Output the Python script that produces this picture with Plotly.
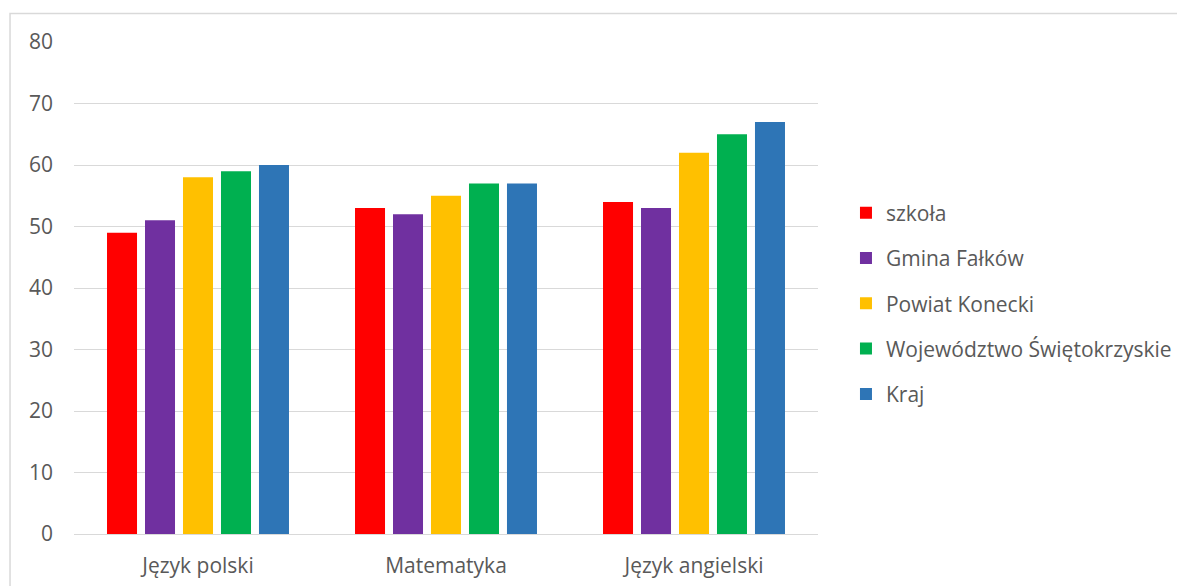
import plotly.graph_objects as go

categories = ["Język polski", "Matematyka", "Język angielski"]
series_names = ["szkoła", "Gmina Fałków", "Powiat Konecki", "Województwo Świętokrzyskie", "Kraj"]
szkola = [49, 53, 54]
gmina = [51, 52, 53]
powiat = [58, 55, 62]
wojewodztwo = [59, 57, 65]
kraj = [60, 57, 67]
colors = ["#FF0000", "#7030A0", "#FFC000", "#00B050", "#2E75B6"]
y_ticks = [0, 10, 20, 30, 40, 50, 60, 70, 80]

values = [szkola, gmina, powiat, wojewodztwo, kraj]
font_family = "Open Sans, Noto Sans, sans-serif"
fs = 21

fig = go.Figure()
for name, vals, col in zip(series_names, values, colors):
    fig.add_trace(go.Bar(x=categories, y=vals, name=name, marker=dict(color=col, line=dict(width=0)),
                         showlegend=False))
for name, col in zip(series_names, colors):
    fig.add_trace(go.Scatter(x=[None], y=[None], mode="markers", name=name, legendgroup=name,
                             marker=dict(symbol="square", size=12, color=col)))

fig.update_layout(
    width=1177, height=578,
    margin=dict(l=66, r=367, t=34, b=52, autoexpand=False),
    paper_bgcolor="white", plot_bgcolor="white",
    barmode="group", bargap=0.234, bargroupgap=0.21,
    font=dict(family=font_family, size=fs, color="#595959"),
    xaxis=dict(showgrid=False, showline=False, ticks="", ticklabelstandoff=17, automargin=False,
               tickfont=dict(size=fs, color="#595959")),
    yaxis=dict(range=[0, 80], tickvals=y_ticks, showgrid=True, gridcolor="#D9D9D9", gridwidth=1,
               zeroline=True, zerolinecolor="#D9D9D9", zerolinewidth=1, showline=False, automargin=False,
               ticks="", ticklabelstandoff=20, tickfont=dict(size=fs, color="#595959")),
    legend=dict(x=1.0376, y=0.694, xanchor="left", yanchor="top", traceorder="grouped",
                tracegroupgap=15, itemwidth=30, font=dict(size=fs, color="#595959"),
                bgcolor="rgba(0,0,0,0)"),
    shapes=[dict(type="rect", xref="paper", yref="paper", x0=-0.086, x1=1.7, y0=-0.3, y1=1.058,
                 line=dict(color="#D9D9D9", width=1.5), fillcolor="rgba(0,0,0,0)", layer="below")],
)
fig.write_html("out.html")
